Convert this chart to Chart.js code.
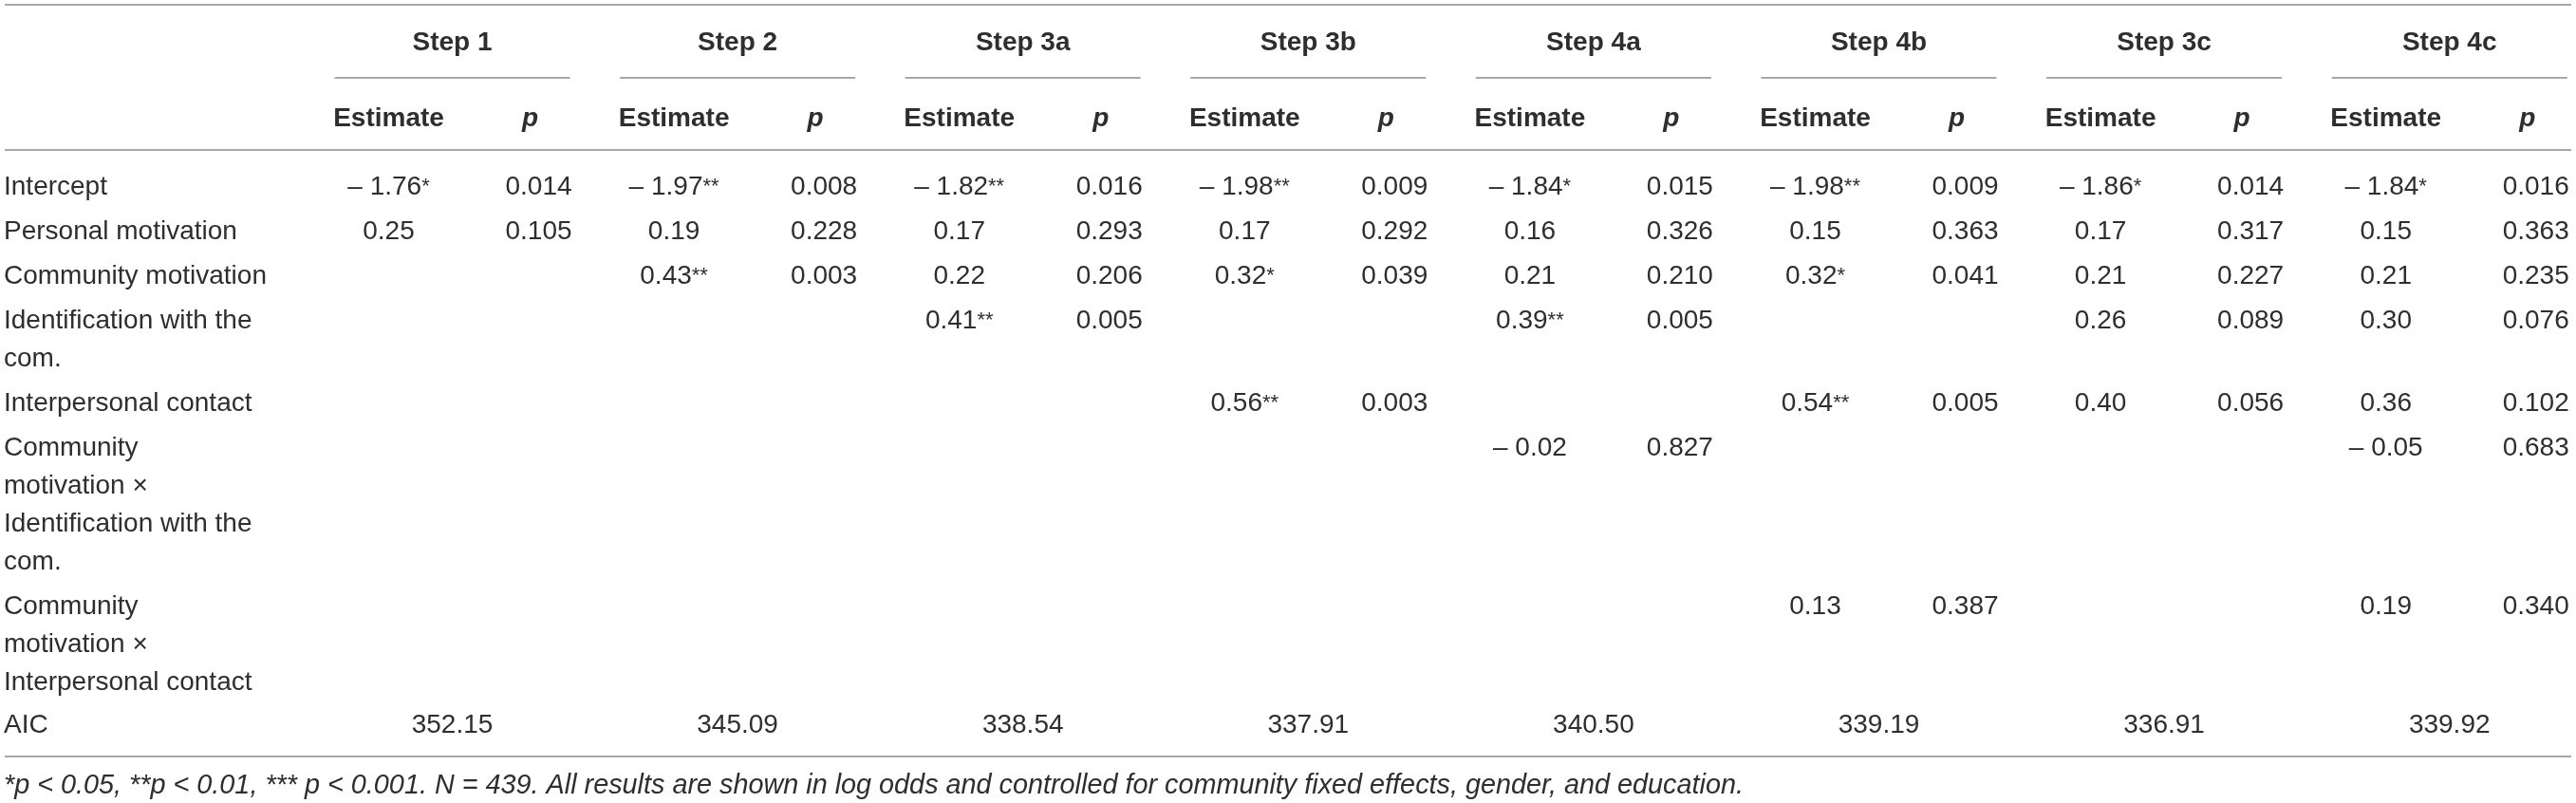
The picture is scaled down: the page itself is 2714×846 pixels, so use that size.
<!DOCTYPE html>
<html>
<head>
<meta charset="utf-8">
<script src="https://cdn.jsdelivr.net/npm/chart.js@4.4.0/dist/chart.umd.min.js"></script>
<style>
  html, body { margin: 0; padding: 0; background: #ffffff; overflow: hidden; }
  #wrap { width: 2714px; height: 846px; position: relative; }
</style>
</head>
<body>
<div id="wrap"><canvas id="c" width="2714" height="846"></canvas></div>
<script>
// ---------------- DATA ----------------
const steps = ["Step 1", "Step 2", "Step 3a", "Step 3b", "Step 4a", "Step 4b", "Step 3c", "Step 4c"];
const subHeaders = ["Estimate", "p"];
const rowLabels = [
  ["Intercept"],
  ["Personal motivation"],
  ["Community motivation"],
  ["Identification with the", "com."],
  ["Interpersonal contact"],
  ["Community", "motivation \u00d7", "Identification with the", "com."],
  ["Community", "motivation \u00d7", "Interpersonal contact"]
];
const summaryLabel = "AIC";

const interceptEst = [-1.76, -1.97, -1.82, -1.98, -1.84, -1.98, -1.86, -1.84];
const interceptSig = [1, 2, 2, 2, 1, 2, 1, 1];
const interceptP   = [0.014, 0.008, 0.016, 0.009, 0.015, 0.009, 0.014, 0.016];

const personalEst = [0.25, 0.19, 0.17, 0.17, 0.16, 0.15, 0.17, 0.15];
const personalSig = [0, 0, 0, 0, 0, 0, 0, 0];
const personalP   = [0.105, 0.228, 0.293, 0.292, 0.326, 0.363, 0.317, 0.363];

const communityEst = [null, 0.43, 0.22, 0.32, 0.21, 0.32, 0.21, 0.21];
const communitySig = [0, 2, 0, 1, 0, 1, 0, 0];
const communityP   = [null, 0.003, 0.206, 0.039, 0.210, 0.041, 0.227, 0.235];

const identEst = [null, null, 0.41, null, 0.39, null, 0.26, 0.30];
const identSig = [0, 0, 2, 0, 2, 0, 0, 0];
const identP   = [null, null, 0.005, null, 0.005, null, 0.089, 0.076];

const contactEst = [null, null, null, 0.56, null, 0.54, 0.40, 0.36];
const contactSig = [0, 0, 0, 2, 0, 2, 0, 0];
const contactP   = [null, null, null, 0.003, null, 0.005, 0.056, 0.102];

const cmIdentEst = [null, null, null, null, -0.02, null, null, -0.05];
const cmIdentSig = [0, 0, 0, 0, 0, 0, 0, 0];
const cmIdentP   = [null, null, null, null, 0.827, null, null, 0.683];

const cmContactEst = [null, null, null, null, null, 0.13, null, 0.19];
const cmContactSig = [0, 0, 0, 0, 0, 0, 0, 0];
const cmContactP   = [null, null, null, null, null, 0.387, null, 0.340];

const aicValues = [352.15, 345.09, 338.54, 337.91, 340.50, 339.19, 336.91, 339.92];

const footnote = "*p < 0.05, **p < 0.01, *** p < 0.001. N = 439. All results are shown in log odds and controlled for community fixed effects, gender, and education.";

// ---------------- LAYOUT / STYLE ----------------
const W = 2714, H = 846;
const PX_PER_STEP = 300.6;        // horizontal distance between step groups
const FIRST_STEP_PX = 476.5;      // centre of first step group
const LINE_PX = 40;               // one text line
const FIRST_ROW_PX = 195;         // centre of first body row
const ROW_GAP = 0.175;            // extra space between rows (line units)
const AIC_GAP = -0.05;

const xMin = -FIRST_STEP_PX / PX_PER_STEP;
const xMax = xMin + W / PX_PER_STEP;
const yMin = -FIRST_ROW_PX / LINE_PX;
const yMax = yMin + H / LINE_PX;

const EST_OFF = -67 / PX_PER_STEP;
const P_OFF = 91 / PX_PER_STEP;
const PHEAD_OFF = 82 / PX_PER_STEP;
const UL_HALF = 124 / PX_PER_STEP;

const Y_TOP_RULE = -4.75, Y_STEP = -3.8, Y_UL = -2.825, Y_SUB = -1.8, Y_HEAD_RULE = -0.925;

const TEXT = "#2e2e2e";
const RULE = "#a8a8a8";
const FAMILY = "'Liberation Sans', Arial, Helvetica, sans-serif";
const FS = 28;
const FOOT_FS = 28.8;

const rows = [
  { est: interceptEst, sig: interceptSig, p: interceptP },
  { est: personalEst, sig: personalSig, p: personalP },
  { est: communityEst, sig: communitySig, p: communityP },
  { est: identEst, sig: identSig, p: identP },
  { est: contactEst, sig: contactSig, p: contactP },
  { est: cmIdentEst, sig: cmIdentSig, p: cmIdentP },
  { est: cmContactEst, sig: cmContactSig, p: cmContactP }
];

// row positions in line units, derived from number of label lines
const rowY = [];
let cursor = 0;
rowLabels.forEach(lines => { rowY.push(cursor); cursor += lines.length + ROW_GAP; });
const aicY = cursor + AIC_GAP;
const bottomRuleY = aicY + 0.875;
const footY = bottomRuleY + 0.725;

const fmtEst = v => (v < 0 ? "\u2013 " + Math.abs(v).toFixed(2) : v.toFixed(2));

// ---------------- DATASETS ----------------
const labelData = rowLabels.map((lines, i) => ({ x: xMin, y: rowY[i], lines: lines }));
labelData.push({ x: xMin, y: aicY, lines: [summaryLabel] });

const estData = [], pData = [];
rows.forEach((r, i) => {
  steps.forEach((s, k) => {
    if (r.est[k] !== null) estData.push({ x: k + EST_OFF, y: rowY[i], text: fmtEst(r.est[k]), stars: r.sig[k] });
    if (r.p[k] !== null) pData.push({ x: k + P_OFF, y: rowY[i], text: r.p[k].toFixed(3), stars: 0 });
  });
});
const aicData = aicValues.map((v, k) => ({ x: k, y: aicY, text: v.toFixed(2), stars: 0 }));
const stepData = steps.map((s, k) => ({ x: k, y: Y_STEP, text: s, stars: 0 }));
const subEstData = steps.map((s, k) => ({ x: k + EST_OFF, y: Y_SUB, text: subHeaders[0], stars: 0 }));
const subPData = steps.map((s, k) => ({ x: k + PHEAD_OFF, y: Y_SUB, text: subHeaders[1], stars: 0 }));
const footData = [{ x: xMin, y: footY, lines: [footnote] }];

function ds(label, data, kind, font, align) {
  return { label, data, kind, cellFont: font, cellAlign: align, pointRadius: 0, pointHoverRadius: 0, showLine: false };
}

const datasets = [
  ds("rowLabels", labelData, "lines", `${FS}px ${FAMILY}`, "left"),
  ds("estimates", estData, "cell", `${FS}px ${FAMILY}`, "center"),
  ds("pvalues", pData, "cell", `${FS}px ${FAMILY}`, "center"),
  ds("aic", aicData, "cell", `${FS}px ${FAMILY}`, "center"),
  ds("steps", stepData, "cell", `bold ${FS}px ${FAMILY}`, "center"),
  ds("estHead", subEstData, "cell", `bold ${FS}px ${FAMILY}`, "center"),
  ds("pHead", subPData, "cell", `italic bold ${FS}px ${FAMILY}`, "center"),
  ds("footnote", footData, "lines", `italic ${FOOT_FS}px ${FAMILY}`, "left")
];

// ---------------- PLUGINS ----------------
const rulesPlugin = {
  id: "tableRules",
  beforeDatasetsDraw(chart) {
    const { ctx, scales: { x, y } } = chart;
    ctx.save();
    ctx.strokeStyle = RULE;
    ctx.lineWidth = 2;
    const left = x.getPixelForValue(xMin) + 5;
    const right = x.getPixelForValue(xMax) - 5;
    [Y_TOP_RULE, Y_HEAD_RULE, bottomRuleY].forEach(v => {
      const py = Math.round(y.getPixelForValue(v));
      ctx.beginPath(); ctx.moveTo(left, py); ctx.lineTo(right, py); ctx.stroke();
    });
    steps.forEach((s, k) => {
      const py = Math.round(y.getPixelForValue(Y_UL));
      ctx.beginPath();
      ctx.moveTo(x.getPixelForValue(k - UL_HALF), py);
      ctx.lineTo(x.getPixelForValue(k + UL_HALF), py);
      ctx.stroke();
    });
    ctx.restore();
  }
};

const textPlugin = {
  id: "tableText",
  afterDatasetsDraw(chart) {
    const { ctx, scales: { y } } = chart;
    ctx.save();
    ctx.fillStyle = TEXT;
    ctx.textAlign = "left";
    ctx.textBaseline = "alphabetic";
    const capHalf = FS * 0.716 / 2;
    chart.data.datasets.forEach((dset, i) => {
      const meta = chart.getDatasetMeta(i);
      meta.data.forEach((el, j) => {
        const d = dset.data[j];
        ctx.font = dset.cellFont;
        if (dset.kind === "lines") {
          d.lines.forEach((line, li) => {
            const py = y.getPixelForValue(d.y + li) + capHalf;
            ctx.fillText(line, el.x + 4, py);
          });
        } else {
          const w1 = ctx.measureText(d.text).width;
          const starStr = "*".repeat(d.stars || 0);
          ctx.font = `${FS - 6}px ${FAMILY}`;
          const w2 = starStr ? ctx.measureText(starStr).width : 0;
          const start = dset.cellAlign === "center" ? el.x - (w1 + w2) / 2 : el.x;
          const base = el.y + capHalf;
          ctx.font = dset.cellFont;
          ctx.fillText(d.text, start, base);
          if (starStr) {
            ctx.font = `${FS - 6}px ${FAMILY}`;
            ctx.fillText(starStr, start + w1, base - 2);
          }
        }
      });
    });
    ctx.restore();
  }
};

new Chart(document.getElementById("c"), {
  type: "scatter",
  data: { datasets },
  options: {
    responsive: false,
    animation: false,
    devicePixelRatio: 1,
    events: [],
    layout: { padding: 0 },
    plugins: { legend: { display: false }, tooltip: { enabled: false }, title: { display: false } },
    scales: {
      x: { type: "linear", min: xMin, max: xMax, display: false },
      y: { type: "linear", min: yMin, max: yMax, reverse: true, display: false }
    }
  },
  plugins: [rulesPlugin, textPlugin]
});
</script>
</body>
</html>
